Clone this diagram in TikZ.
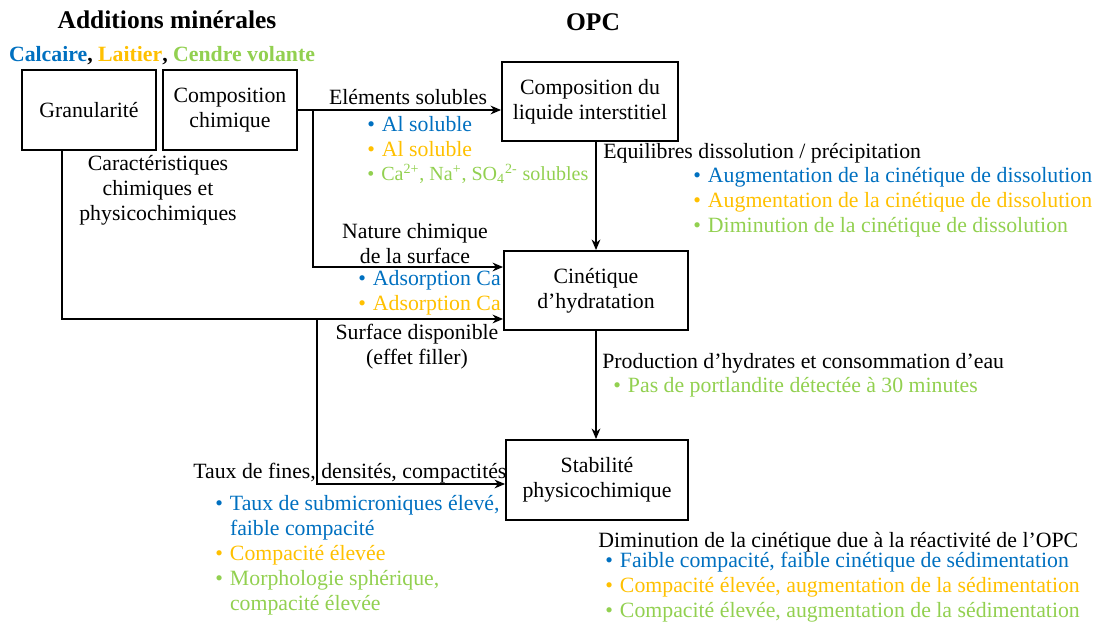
\documentclass[tikz,border=0pt]{standalone}
\usepackage{fontspec}
\setmainfont{Liberation Serif}
\usepackage{xcolor}
\usetikzlibrary{arrows.meta,positioning}
\definecolor{calcblue}{RGB}{0,112,192}
\definecolor{laitorange}{RGB}{255,192,0}
\definecolor{cendregreen}{RGB}{146,208,80}
\newcommand{\bull}[2]{{\color{#1}\textbullet\hspace{4pt}#2}}
\newcommand{\bullcont}[2]{{\color{#1}\phantom{\textbullet}\hspace{4pt}#2}}

\begin{document}
\begin{tikzpicture}[
  x=0.02cm, y=-0.02cm,
  every node/.style={font=\fontsize{12.4}{14.2}\selectfont, inner sep=0pt},
  box/.style={draw, line width=1.1pt, minimum height=1.6cm,
              align=center, inner sep=2pt},
  title/.style={font=\fontsize{14.5}{17}\selectfont\bfseries},
  lbl/.style={align=center},
  lst/.style={align=left, anchor=west},
  arrow/.style={-{Stealth[length=6pt,width=5pt]}, line width=0.85pt},
]
\useasboundingbox (0,0) rectangle (1107,622);

%% ── Titles ───────────────────────────────────────────────────────────────────
\node[title] (tadd) at (167,20) {Additions minérales};
\node[title] (topc) at (593,22) {OPC};
\node[font=\fontsize{12.4}{14}\selectfont\bfseries] (tmat) at (162,56)
  {{\color{calcblue}Calcaire}, {\color{laitorange}Laitier}, {\color{cendregreen}Cendre volante}};

%% ── Boxes ────────────────────────────────────────────────────────────────────
\node[box, minimum width=2.68cm] (gran)  at (89,110)    {Granularité};
\node[box, minimum width=2.68cm] (compo) at (230,110)   {Composition\\chimique};
\node[box, minimum width=3.52cm, minimum height=1.58cm] (liq) at (590,101.5)
  {Composition du\\liquide interstitiel};
\node[box, minimum width=3.68cm, minimum height=1.58cm] (cin) at (596,290.5)
  {Cinétique\\d’hydratation};
\node[box, minimum width=3.64cm] (stab) at (597,480) {Stabilité\\physicochimique};

%% ── Junctions ────────────────────────────────────────────────────────────────
\coordinate (jcompo) at (313,110);
\coordinate (jgran)  at (317,319);

%% ── Arrows ───────────────────────────────────────────────────────────────────
% Composition chimique -> liquide interstitiel / cinetique
\draw[arrow] (compo.east) -- (liq.west |- compo.east);
\draw[arrow] (jcompo) |- ([yshift=0.47cm]cin.west);

% Granularite -> cinetique / stabilite
\draw[arrow] ([xshift=-0.54cm]gran.south) |- ([yshift=-0.57cm]cin.west);
\draw[arrow] (jgran) |- ([yshift=-0.08cm]stab.west);

% OPC chain
\draw[arrow] (cin.north |- liq.south) -- (cin.north);
\draw[arrow] (cin.south) -- (cin.south |- stab.north);

%% ── Labels ───────────────────────────────────────────────────────────────────
\node[lbl] (carac) at (158,190) {Caractéristiques\\chimiques et\\physicochimiques};
\node[lbl] (elsol) at (408,97) {Eléments solubles};
\node[lst] (lsol) at (367,150)
  {\bull{calcblue}{Al soluble}\\
   \bull{laitorange}{Al soluble}\\
   {\fontsize{11.4}{14.2}\selectfont\bull{cendregreen}{Ca\textsuperscript{2+}, Na\textsuperscript{+}, SO\textsubscript{4}\textsuperscript{2-} solubles}}};

\node[lbl] (natur) at (415,244) {Nature chimique\\de la surface};
\node[lst] (lads) at (358,292.5)
  {\bull{calcblue}{Adsorption Ca}\\
   \bull{laitorange}{Adsorption Ca}};
\node[lbl] (surf) at (417,347) {Surface disponible\\(effet filler)};

\node[anchor=west] (equil) at (603,153) {Equilibres dissolution / précipitation};
\node[lst] (ldiss) at (693,202)
  {\bull{calcblue}{Augmentation de la cinétique de dissolution}\\
   \bull{laitorange}{Augmentation de la cinétique de dissolution}\\
   \bull{cendregreen}{Diminution de la cinétique de dissolution}};

\node[anchor=west] (prod) at (602,363) {Production d’hydrates et consommation d’eau};
\node[lst] (lport) at (613,387) {\bull{cendregreen}{Pas de portlandite détectée à 30 minutes}};

\node[anchor=west] (taux) at (193,473) {Taux de fines, densités, compactités};
\node[lst] (lcomp) at (215,555)
  {\bull{calcblue}{Taux de submicroniques élevé,}\\
   \bullcont{calcblue}{faible compacité}\\
   \bull{laitorange}{Compacité élevée}\\
   \bull{cendregreen}{Morphologie sphérique,}\\
   \bullcont{cendregreen}{compacité élevée}};

\node[anchor=west] (dimin) at (598,542) {Diminution de la cinétique due à la réactivité de l’OPC};
\node[lst] (lsed) at (605,587)
  {\bull{calcblue}{Faible compacité, faible cinétique de sédimentation}\\
   \bull{laitorange}{Compacité élevée, augmentation de la sédimentation}\\
   \bull{cendregreen}{Compacité élevée, augmentation de la sédimentation}};

\end{tikzpicture}
\end{document}
